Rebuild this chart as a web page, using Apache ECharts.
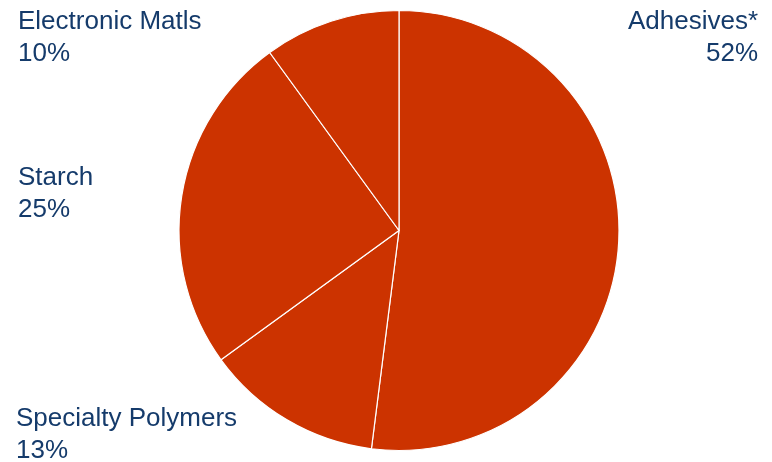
<!DOCTYPE html>
<html>
<head>
<meta charset="utf-8">
<script src="https://cdn.jsdelivr.net/npm/echarts@6/dist/echarts.min.js"></script>
<style>
  html, body { margin: 0; padding: 0; background: #ffffff; }
  #chart { width: 772px; height: 462px; }
</style>
</head>
<body>
<div id="chart"></div>
<script>
// Segment shares, clockwise from 12 o'clock
const categories = ['Adhesives*', 'Specialty Polymers', 'Starch', 'Electronic Matls'];
const shares = [52, 13, 25, 10];

// Label anchor per segment (corner blocks around the pie)
const labelAnchors = [
  { x: 758, y: 6, align: 'right' },
  { x: 16, y: 403, align: 'left' },
  { x: 18, y: 162, align: 'left' },
  { x: 18, y: 6, align: 'left' }
];

const chart = echarts.init(document.getElementById('chart'), null, { renderer: 'canvas' });

chart.setOption({
  animation: false,
  backgroundColor: '#ffffff',
  series: [{
    type: 'pie',
    center: [399, 230.5],
    radius: 220,
    startAngle: 90,
    clockwise: true,
    silent: true,
    data: categories.map((name, i) => ({ name: name, value: shares[i] })),
    itemStyle: {
      color: '#CC3300',
      borderColor: '#ffffff',
      borderWidth: 1.2
    },
    label: {
      show: true,
      formatter: '{b}\n{d}%',
      color: '#153B6B',
      fontFamily: '"Liberation Sans", Arial, sans-serif',
      fontSize: 26,
      lineHeight: 32,
      overflow: 'none',
      width: 400
    },
    labelLine: { show: false },
    labelLayout: function (params) {
      const a = labelAnchors[params.dataIndex];
      return { x: a.x, y: a.y, align: a.align, verticalAlign: 'top', hideOverlap: false };
    }
  }]
});
</script>
</body>
</html>
